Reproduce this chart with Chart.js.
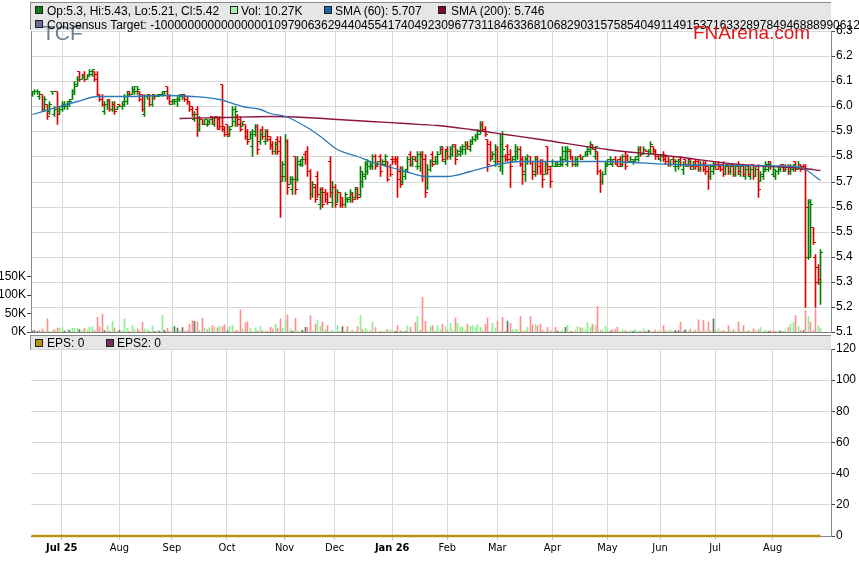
<!DOCTYPE html>
<html>
<head>
<meta charset="utf-8">
<script src="https://cdn.jsdelivr.net/npm/chart.js@4.4.1/dist/chart.umd.min.js"></script>
<style>
  html, body { margin: 0; padding: 0; background: #fff; }
  body { position: relative; width: 859px; height: 566px; overflow: hidden; font-family: "Liberation Sans", Arial, sans-serif; }
  .band { position: absolute; left: 30px; width: 801px; background: #e6e6e6; border-top: 1px solid #8a8a8a; border-left: 1px solid #8a8a8a; box-sizing: border-box; z-index: 0; }
  canvas { position: absolute; left: 0; }
  #priceChart { top: 0; z-index: 2; }
  #epsChart { top: 335px; z-index: 1; }
  .sq { position: absolute; width: 8px; height: 8px; border: 1px solid #222; box-sizing: border-box; z-index: 4; }
  .lt { position: absolute; font-size: 12px; line-height: 14px; color: #000; white-space: nowrap; z-index: 4; }
  #ticker { position: absolute; left: 42px; top: 22px; font-size: 21px; line-height: 21px; color: #6e7f90; z-index: 3; }
  #brand { position: absolute; left: 693px; top: 23px; font-size: 19px; line-height: 19px; color: #e01818; z-index: 5; }
</style>
</head>
<body>
<div class="band" style="top:2px;height:28px"></div>
<div class="band" style="top:335px;height:15px"></div>
<canvas id="priceChart" width="859" height="345"></canvas>
<canvas id="epsChart" width="859" height="231"></canvas>

<div id="ticker">TCF</div>
<span class="sq" style="left:35px;top:6px;background:#127a12"></span><span class="lt" id="legOhlc" style="left:47px;top:4px"></span>
<span class="sq" style="left:230px;top:6px;background:#a8f0a8"></span><span class="lt" id="legVol" style="left:241px;top:4px"></span>
<span class="sq" style="left:324px;top:6px;background:#1565a8"></span><span class="lt" id="legSma60" style="left:335px;top:4px"></span>
<span class="sq" style="left:438px;top:6px;background:#7d0c2c"></span><span class="lt" id="legSma200" style="left:451px;top:4px"></span>
<span class="sq" style="left:35px;top:20px;background:#6b6b9c"></span><span class="lt" style="left:47px;top:18px">Consensus Target: -10000000000000000109790636294404554174049230967731184633681068290315758540491149153716332897849468889906124966972117234</span>
<div id="brand">FNArena.com</div>
<span class="sq" style="left:35px;top:339px;background:#b59410"></span><span class="lt" id="legEps" style="left:47px;top:336px"></span>
<span class="sq" style="left:106px;top:339px;background:#7c2d5e"></span><span class="lt" id="legEps2" style="left:117px;top:336px"></span>

<script>
// daily bars, 16 Jun 2025 .. 28 Aug 2026 (trading day index 0..315)
const open = [
  6.05,6.06,6.06,6.04,6.05,5.99,6.01,5.98,6.06,5.97,
  6.06,5.98,5.99,6.00,6.00,6.01,6.03,6.05,6.08,6.14,
  6.11,6.13,6.11,6.12,6.13,6.14,6.13,6.05,6.04,5.98,
  6.01,6.03,5.99,6.01,5.99,6.01,6.00,6.01,6.02,6.06,
  6.05,6.06,6.06,6.06,6.05,5.97,6.04,6.05,6.01,6.05,
  6.04,6.04,6.05,6.05,6.08,6.04,6.01,6.02,6.02,6.03,
  6.04,6.05,6.04,6.02,6.00,5.95,5.99,5.91,5.95,5.93,
  5.93,5.93,5.96,5.93,5.96,5.95,6.09,5.92,5.93,5.88,
  5.92,5.94,5.96,5.95,5.92,5.93,5.90,5.87,5.84,5.89,
  5.92,5.86,5.91,5.86,5.90,5.88,5.85,5.82,5.87,5.86,
  5.70,5.72,5.86,5.69,5.67,5.80,5.71,5.77,5.77,5.81,
  5.82,5.74,5.65,5.68,5.72,5.61,5.67,5.66,5.65,5.78,
  5.62,5.68,5.62,5.66,5.64,5.61,5.63,5.63,5.65,5.64,
  5.68,5.65,5.70,5.72,5.74,5.76,5.76,5.80,5.77,5.80,
  5.77,5.77,5.78,5.76,5.79,5.79,5.79,5.74,5.70,5.72,
  5.75,5.81,5.77,5.80,5.76,5.76,5.81,5.79,5.68,5.75,
  5.81,5.78,5.78,5.81,5.83,5.78,5.83,5.80,5.81,5.85,
  5.80,5.81,5.82,5.83,5.85,5.83,5.85,5.87,5.88,5.89,
  5.93,5.91,5.87,5.85,5.79,5.78,5.83,5.76,5.80,5.80,
  5.84,5.81,5.78,5.79,5.80,5.83,5.79,5.73,5.78,5.80,
  5.78,5.74,5.80,5.78,5.78,5.73,5.84,5.76,5.76,5.76,
  5.76,5.76,5.77,5.79,5.77,5.82,5.80,5.77,5.77,5.80,
  5.79,5.80,5.81,5.82,5.85,5.80,5.82,5.74,5.70,5.73,
  5.76,5.77,5.77,5.79,5.78,5.79,5.76,5.82,5.80,5.78,
  5.78,5.78,5.79,5.83,5.81,5.83,5.80,5.82,5.84,5.83,
  5.80,5.79,5.81,5.80,5.80,5.77,5.80,5.76,5.76,5.79,
  5.75,5.79,5.76,5.79,5.75,5.78,5.78,5.75,5.77,5.77,
  5.76,5.72,5.74,5.77,5.77,5.77,5.77,5.73,5.77,5.74,
  5.77,5.73,5.77,5.73,5.77,5.72,5.76,5.72,5.77,5.72,
  5.76,5.70,5.72,5.74,5.75,5.78,5.73,5.72,5.74,5.75,
  5.77,5.74,5.76,5.74,5.75,5.78,5.75,5.77,5.76,5.76,
  5.40,5.40,5.52,5.40,5.36,5.30
];
const high = [
  6.06,6.07,6.07,6.06,6.05,6.04,6.01,6.02,6.06,6.00,
  6.06,6.00,6.02,6.02,6.02,6.03,6.07,6.10,6.12,6.14,
  6.13,6.14,6.13,6.15,6.15,6.14,6.14,6.05,6.05,6.02,
  6.03,6.03,6.02,6.02,6.00,6.01,6.02,6.05,6.06,6.06,
  6.08,6.08,6.08,6.06,6.05,6.05,6.05,6.05,6.05,6.05,
  6.05,6.05,6.06,6.06,6.08,6.05,6.03,6.03,6.04,6.05,
  6.05,6.05,6.04,6.02,6.00,5.98,6.00,5.96,5.95,5.95,
  5.95,5.95,5.96,5.96,5.96,5.96,6.09,5.92,5.93,5.92,
  6.00,6.00,5.97,5.96,5.94,5.93,5.91,5.90,5.91,5.93,
  5.93,5.91,5.92,5.91,5.91,5.88,5.86,5.86,5.88,5.88,
  5.78,5.89,5.87,5.72,5.72,5.80,5.80,5.79,5.80,5.82,
  5.84,5.75,5.70,5.69,5.74,5.68,5.68,5.67,5.66,5.80,
  5.70,5.69,5.67,5.66,5.64,5.66,5.64,5.67,5.66,5.68,
  5.68,5.76,5.74,5.78,5.79,5.78,5.81,5.81,5.78,5.81,
  5.79,5.81,5.78,5.77,5.80,5.80,5.80,5.76,5.76,5.75,
  5.80,5.82,5.80,5.80,5.82,5.82,5.82,5.81,5.77,5.79,
  5.82,5.80,5.82,5.84,5.84,5.83,5.84,5.84,5.85,5.85,
  5.83,5.84,5.85,5.86,5.86,5.87,5.88,5.89,5.91,5.94,
  5.94,5.92,5.87,5.86,5.82,5.85,5.84,5.89,5.90,5.81,
  5.85,5.83,5.80,5.85,5.84,5.84,5.80,5.80,5.81,5.80,
  5.78,5.80,5.80,5.79,5.79,5.78,5.84,5.76,5.79,5.78,
  5.78,5.80,5.84,5.84,5.84,5.83,5.80,5.80,5.80,5.81,
  5.80,5.82,5.84,5.86,5.85,5.84,5.82,5.75,5.74,5.78,
  5.79,5.80,5.79,5.80,5.79,5.80,5.81,5.82,5.81,5.80,
  5.79,5.80,5.84,5.84,5.84,5.83,5.83,5.86,5.84,5.83,
  5.81,5.81,5.82,5.81,5.80,5.79,5.80,5.79,5.79,5.80,
  5.78,5.79,5.79,5.79,5.78,5.79,5.79,5.78,5.78,5.78,
  5.76,5.77,5.78,5.78,5.78,5.77,5.78,5.77,5.77,5.77,
  5.77,5.77,5.78,5.77,5.77,5.76,5.77,5.76,5.77,5.76,
  5.77,5.74,5.76,5.78,5.78,5.78,5.76,5.75,5.76,5.77,
  5.77,5.77,5.77,5.77,5.77,5.78,5.78,5.77,5.77,5.77,
  5.63,5.63,5.52,5.41,5.37,5.43
];
const low = [
  6.04,6.05,6.05,6.03,5.98,5.98,5.95,5.97,6.05,5.96,
  5.93,5.97,5.98,5.99,5.99,6.00,6.03,6.05,6.08,6.10,
  6.11,6.10,6.11,6.12,6.12,6.10,6.04,6.02,6.00,5.97,
  5.99,5.98,5.98,5.97,5.99,6.00,5.99,6.00,6.01,6.04,
  6.05,6.05,6.05,6.02,5.98,5.96,6.03,6.00,6.00,6.03,
  6.04,6.04,6.04,6.05,6.03,6.01,6.01,6.01,6.00,6.02,
  6.03,6.02,6.01,5.98,5.96,5.94,5.88,5.90,5.93,5.93,
  5.92,5.93,5.93,5.92,5.91,5.91,5.90,5.88,5.88,5.88,
  5.92,5.92,5.92,5.90,5.92,5.87,5.85,5.87,5.80,5.88,
  5.81,5.85,5.87,5.85,5.86,5.83,5.81,5.81,5.81,5.56,
  5.70,5.70,5.65,5.69,5.65,5.65,5.70,5.76,5.76,5.77,
  5.72,5.63,5.64,5.62,5.64,5.59,5.60,5.62,5.61,5.64,
  5.60,5.60,5.62,5.60,5.60,5.60,5.62,5.62,5.62,5.63,
  5.63,5.64,5.68,5.71,5.73,5.75,5.75,5.75,5.76,5.72,
  5.77,5.76,5.70,5.72,5.77,5.77,5.64,5.68,5.69,5.71,
  5.74,5.76,5.76,5.78,5.75,5.74,5.70,5.64,5.67,5.74,
  5.76,5.77,5.77,5.81,5.78,5.77,5.79,5.79,5.80,5.77,
  5.80,5.80,5.81,5.81,5.83,5.82,5.85,5.86,5.87,5.89,
  5.90,5.88,5.74,5.78,5.79,5.76,5.77,5.74,5.73,5.78,
  5.78,5.68,5.78,5.78,5.79,5.76,5.69,5.70,5.77,5.77,
  5.71,5.72,5.73,5.73,5.68,5.73,5.73,5.68,5.76,5.76,
  5.76,5.76,5.76,5.78,5.76,5.79,5.76,5.76,5.76,5.79,
  5.79,5.80,5.80,5.81,5.83,5.79,5.73,5.66,5.69,5.73,
  5.76,5.77,5.76,5.77,5.76,5.76,5.76,5.75,5.78,5.78,
  5.77,5.78,5.78,5.80,5.81,5.82,5.80,5.81,5.81,5.79,
  5.79,5.78,5.78,5.77,5.76,5.76,5.77,5.74,5.75,5.76,
  5.73,5.76,5.76,5.75,5.75,5.75,5.74,5.74,5.74,5.73,
  5.67,5.71,5.73,5.75,5.75,5.74,5.72,5.73,5.73,5.73,
  5.72,5.72,5.73,5.72,5.72,5.71,5.72,5.71,5.71,5.72,
  5.64,5.70,5.71,5.74,5.74,5.75,5.72,5.71,5.73,5.74,
  5.74,5.74,5.73,5.73,5.74,5.74,5.75,5.74,5.75,5.20,
  5.39,5.40,5.45,5.20,5.29,5.21
];
const close = [
  6.06,6.06,6.06,6.05,5.99,6.03,5.96,6.01,6.06,5.99,
  5.97,6.00,6.01,6.01,6.02,6.02,6.06,6.09,6.11,6.11,
  6.12,6.11,6.13,6.14,6.15,6.11,6.05,6.03,6.01,6.01,
  6.02,5.99,6.01,5.98,6.00,6.00,6.02,6.04,6.05,6.04,
  6.07,6.08,6.07,6.03,5.99,6.04,6.05,6.01,6.04,6.04,
  6.05,6.05,6.06,6.06,6.04,6.02,6.03,6.03,6.03,6.05,
  6.05,6.03,6.02,5.99,5.97,5.97,5.93,5.95,5.93,5.95,
  5.94,5.95,5.93,5.96,5.91,5.92,5.91,5.89,5.89,5.91,
  5.99,5.98,5.93,5.91,5.94,5.88,5.86,5.89,5.90,5.92,
  5.83,5.89,5.88,5.90,5.87,5.84,5.82,5.85,5.82,5.72,
  5.77,5.86,5.68,5.71,5.71,5.67,5.78,5.79,5.79,5.79,
  5.74,5.65,5.69,5.63,5.65,5.66,5.61,5.63,5.62,5.66,
  5.68,5.61,5.66,5.61,5.61,5.65,5.64,5.66,5.63,5.67,
  5.64,5.74,5.73,5.77,5.78,5.77,5.80,5.76,5.78,5.74,
  5.78,5.80,5.71,5.73,5.78,5.78,5.71,5.69,5.74,5.74,
  5.79,5.77,5.79,5.78,5.81,5.80,5.72,5.66,5.75,5.78,
  5.77,5.80,5.81,5.84,5.79,5.82,5.80,5.83,5.84,5.79,
  5.82,5.83,5.84,5.85,5.84,5.86,5.87,5.89,5.90,5.92,
  5.91,5.89,5.77,5.80,5.81,5.83,5.78,5.85,5.83,5.79,
  5.79,5.76,5.80,5.82,5.83,5.77,5.74,5.79,5.80,5.78,
  5.73,5.79,5.76,5.74,5.71,5.77,5.75,5.70,5.78,5.77,
  5.77,5.79,5.82,5.82,5.83,5.80,5.77,5.79,5.80,5.79,
  5.80,5.82,5.83,5.85,5.83,5.84,5.74,5.70,5.73,5.77,
  5.79,5.79,5.78,5.77,5.76,5.77,5.80,5.76,5.78,5.79,
  5.79,5.80,5.83,5.81,5.83,5.82,5.82,5.85,5.82,5.80,
  5.79,5.80,5.79,5.78,5.77,5.79,5.78,5.78,5.78,5.77,
  5.77,5.77,5.78,5.76,5.77,5.76,5.75,5.77,5.75,5.74,
  5.72,5.76,5.76,5.75,5.76,5.75,5.73,5.76,5.74,5.76,
  5.73,5.76,5.74,5.76,5.73,5.75,5.73,5.75,5.72,5.75,
  5.67,5.73,5.75,5.77,5.77,5.76,5.75,5.74,5.76,5.76,
  5.75,5.76,5.74,5.76,5.77,5.75,5.77,5.75,5.75,5.60,
  5.62,5.61,5.46,5.30,5.31,5.42
];
// volume in thousands
const volume = [
  4,5,3,6,10,4,37,3,5,8,
  12,12,12,4,8,6,12,11,12,8,
  5,12,8,14,16,6,41,16,50,5,
  18,4,30,12,3,6,5,37,12,4,
  18,8,10,5,28,10,8,4,18,3,
  5,4,47,6,11,4,18,16,12,5,
  13,4,5,23,32,30,28,6,38,12,
  8,13,19,14,13,18,16,21,5,17,
  19,5,5,61,9,26,29,12,4,12,
  5,16,5,5,3,14,9,23,11,37,
  10,32,48,10,4,38,5,5,6,14,
  14,46,5,22,32,17,28,8,19,4,
  6,1,19,3,16,5,16,4,5,3,
  16,46,8,12,5,4,28,13,2,4,
  3,5,8,8,4,3,19,5,4,3,
  19,14,3,27,43,6,95,30,4,16,
  19,5,19,8,22,16,5,25,8,39,
  25,16,14,7,23,17,19,14,21,14,
  4,22,39,4,25,12,31,4,41,4,
  31,25,8,8,8,44,4,5,14,43,
  21,23,19,23,5,4,14,5,3,14,
  4,3,7,14,20,4,3,7,17,13,
  12,7,27,14,22,20,70,5,7,17,
  7,4,8,8,14,4,8,5,3,6,
  4,7,5,3,9,4,6,5,3,7,
  4,6,19,5,4,8,3,6,5,28,
  4,7,5,9,4,6,34,5,32,4,
  28,6,37,5,10,4,6,3,19,5,
  7,4,28,5,19,4,6,3,10,5,
  7,13,4,6,3,5,5,3,6,4,
  3,5,14,23,28,46,17,6,5,60,
  43,28,5,64,19,10.27
];
const sma60Idx = [0, 11, 18, 26, 38, 51, 64, 75, 84, 91, 95, 101, 109, 115, 122, 130, 135, 142, 149, 157, 166, 175, 186, 195, 206, 230, 256, 283, 304, 308, 315];
const sma60 = [5.97, 6.00, 6.02, 6.04, 6.04, 6.045, 6.04, 6.03, 6.00, 5.99, 5.975, 5.96, 5.92, 5.88, 5.83, 5.80, 5.78, 5.76, 5.74, 5.72, 5.72, 5.74, 5.77, 5.78, 5.78, 5.78, 5.77, 5.766, 5.76, 5.755, 5.707];
const sma200Idx = [59, 77, 95, 109, 122, 135, 149, 162, 175, 189, 203, 230, 256, 283, 308, 315];
const sma200 = [5.955, 5.957, 5.96, 5.958, 5.95, 5.94, 5.935, 5.925, 5.91, 5.89, 5.87, 5.83, 5.80, 5.77, 5.755, 5.746];
const epsIdx = [0, 315];
const eps = [0, 0];
const eps2 = [0, 0];
const monthIdx = [12, 35, 56, 78, 101, 121, 144, 166, 186, 208, 230, 251, 273, 296];
const monthLabels = ['Jul 25', 'Aug', 'Sep', 'Oct', 'Nov', 'Dec', 'Jan 26', 'Feb', 'Mar', 'Apr', 'May', 'Jun', 'Jul', 'Aug'];
const volTicks = [0, 50, 100, 150];

const UP = '#008000', DOWN = '#dd0000';
const VOL_UP = '#8cf08c', VOL_DOWN = '#ff9090', VOL_FLAT = '#707070';
const GRID = '#d8d8d8';
const X_MIN = -0.3, X_MAX = 319.3;
const NARROW = "'Liberation Sans Narrow', 'DejaVu Sans Condensed', Arial, sans-serif";

Chart.defaults.font.family = "'Liberation Sans', Arial, sans-serif";
Chart.defaults.font.size = 12;
Chart.defaults.color = '#000';

const last = close.length - 1;
document.getElementById('legOhlc').textContent = 'Op:' + open[last] + ', Hi:' + high[last] + ', Lo:' + low[last] + ', Cl:' + close[last];
document.getElementById('legVol').textContent = 'Vol: ' + volume[last] + 'K';
document.getElementById('legSma60').textContent = 'SMA (60): ' + sma60[sma60.length - 1];
document.getElementById('legSma200').textContent = 'SMA (200): ' + sma200[sma200.length - 1];
document.getElementById('legEps').textContent = 'EPS: ' + eps[eps.length - 1];
document.getElementById('legEps2').textContent = 'EPS2: ' + eps2[eps2.length - 1];

// small open/close tick marks used as point images
function tickImg(color, left) {
  const c = document.createElement('canvas');
  c.width = 5; c.height = 1;
  const g = c.getContext('2d');
  g.fillStyle = color;
  g.fillRect(left ? 0 : 3, 0, 2, 1);
  return c;
}
const upOpen = tickImg(UP, true), upClose = tickImg(UP, false);
const dnOpen = tickImg(DOWN, true), dnClose = tickImg(DOWN, false);

const isUp = i => close[i] >= open[i];
const idx = close.map((_, i) => i);

function volColor(i) {
  if (i === 0 || close[i] === close[i - 1]) return VOL_FLAT;
  return close[i] > close[i - 1] ? VOL_UP : VOL_DOWN;
}

function monthTicks(axis) {
  axis.ticks = monthIdx.map(v => ({ value: v }));
}

// shift the data layer half a pixel so 1px bars land on whole pixels
const crisp = {
  id: 'crisp',
  beforeDatasetsDraw(chart) { chart.ctx.save(); chart.ctx.translate(0.5, 0.5); },
  afterDatasetsDraw(chart) { chart.ctx.restore(); }
};

new Chart(document.getElementById('priceChart'), {
  type: 'bar',
  plugins: [crisp],
  data: {
    datasets: [
      {
        type: 'line', data: sma60Idx.map((x, k) => ({ x: x, y: sma60[k] })),
        borderColor: '#2a7ab9', borderWidth: 1.3, pointRadius: 0,
        cubicInterpolationMode: 'monotone', yAxisID: 'y', order: 0
      },
      {
        type: 'line', data: sma200Idx.map((x, k) => ({ x: x, y: sma200[k] })),
        borderColor: '#8b1540', borderWidth: 1.3, pointRadius: 0,
        cubicInterpolationMode: 'monotone', yAxisID: 'y', order: 0
      },
      {
        type: 'line', showLine: false, data: idx.map(i => ({ x: i, y: open[i] })),
        pointStyle: ctx => isUp(ctx.dataIndex) ? upOpen : dnOpen,
        pointRadius: 1, pointHoverRadius: 1, yAxisID: 'y', order: 1
      },
      {
        type: 'line', showLine: false, data: idx.map(i => ({ x: i, y: close[i] })),
        pointStyle: ctx => isUp(ctx.dataIndex) ? upClose : dnClose,
        pointRadius: 1, pointHoverRadius: 1, yAxisID: 'y', order: 1
      },
      {
        type: 'bar', data: idx.map(i => ({ x: i, y: [low[i], high[i]] })),
        backgroundColor: ctx => isUp(ctx.dataIndex) ? UP : DOWN,
        barThickness: 1, grouped: false, borderWidth: 0, yAxisID: 'y', order: 2
      },
      {
        type: 'bar', data: idx.map(i => ({ x: i, y: volume[i] })),
        backgroundColor: ctx => volColor(ctx.dataIndex),
        barThickness: 1, grouped: false, borderWidth: 0, yAxisID: 'yVol', order: 10
      }
    ]
  },
  options: {
    responsive: false,
    animation: false,
    events: [],
    layout: { padding: { top: 31, left: 0, right: 0, bottom: 0 } },
    plugins: { legend: { display: false }, tooltip: { enabled: false } },
    scales: {
      x: {
        type: 'linear', min: X_MIN, max: X_MAX, offset: false, alignToPixels: true,
        afterBuildTicks: monthTicks,
        afterFit: s => { s.height = 13; },
        ticks: { display: false },
        grid: { color: GRID, drawTicks: false, offset: false },
        border: { display: true, color: '#777' }
      },
      y: {
        position: 'right', min: 5.1, max: 6.3, alignToPixels: true,
        afterFit: s => { s.width = 28; },
        ticks: { stepSize: 0.1, padding: 1, callback: v => v.toFixed(1) },
        grid: { color: GRID, tickLength: 4, tickColor: '#444' },
        border: { display: true, color: '#888' }
      },
      yVol: {
        position: 'left', min: 0, max: 814,
        afterFit: s => { s.width = 31; },
        afterBuildTicks: axis => { axis.ticks = volTicks.map(v => ({ value: v })); },
        ticks: { padding: 1, autoSkip: false, callback: v => v + 'K' },
        grid: { drawOnChartArea: false, tickLength: 4, tickColor: '#444' },
        border: { display: true, color: '#888' }
      }
    }
  }
});

new Chart(document.getElementById('epsChart'), {
  type: 'line',
  data: {
    datasets: [
      { data: epsIdx.map((x, k) => ({ x: x, y: eps[k] })), borderColor: '#b8960b', borderWidth: 2.5, pointRadius: 0, clip: 4 },
      { data: epsIdx.map((x, k) => ({ x: x, y: eps2[k] })), borderColor: '#7c2d5e', borderWidth: 2, pointRadius: 0, clip: 4 }
    ]
  },
  options: {
    responsive: false,
    animation: false,
    events: [],
    layout: { padding: { top: 14, left: 31, right: 0, bottom: 0 } },
    plugins: { legend: { display: false }, tooltip: { enabled: false } },
    scales: {
      x: {
        type: 'linear', min: X_MIN, max: X_MAX,
        afterBuildTicks: monthTicks,
        afterFit: s => { s.height = 30; },
        ticks: {
          autoSkip: false, maxRotation: 0, padding: 2, color: '#000',
          callback: v => monthLabels[monthIdx.indexOf(v)],
          font: ctx => ({ family: NARROW, size: 11, weight: (ctx.tick && ctx.tick.label && ctx.tick.label.indexOf(' ') > 0) ? 'bold' : 'normal' })
        },
        grid: { color: GRID, tickLength: 4, tickColor: '#c8c8c8' },
        border: { display: true, color: '#888' }
      },
      y: {
        position: 'right', min: 0, max: 120,
        afterFit: s => { s.width = 28; },
        ticks: { stepSize: 20, padding: 1 },
        grid: { color: GRID, tickLength: 4, tickColor: '#444' },
        border: { display: true, color: '#888' }
      }
    }
  }
});
</script>
</body>
</html>
